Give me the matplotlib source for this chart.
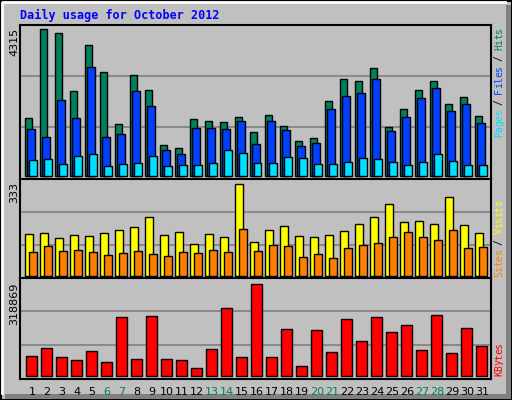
import numpy as np
import matplotlib.pyplot as plt
from matplotlib.patches import Rectangle
from matplotlib.lines import Line2D

days = list(range(1, 32))
weekend = [6, 7, 13, 14, 20, 21, 27, 28]
hits = [1702, 4315, 4197, 2495, 3845, 3052, 1526, 2964, 2524, 910, 822, 1673, 1614, 1585, 1732, 1291,
        1790, 1468, 1027, 1115, 2201, 2847, 2788, 3170, 1438, 1966, 2524, 2788, 2113, 2319, 1761]
files = [1379, 1145, 2231, 1702, 3199, 1145, 1233, 2495, 2055, 763, 646, 1409, 1409, 1379, 1614, 939,
         1614, 1350, 880, 969, 1966, 2348, 2436, 2847, 1321, 1732, 2289, 2583, 1908, 2113, 1556]
pages = [470, 499, 352, 587, 646, 294, 352, 382, 587, 294, 323, 323, 382, 763, 675, 382,
         382, 558, 528, 352, 352, 411, 528, 499, 411, 323, 411, 646, 440, 323, 323]
visits = [152, 156, 138, 148, 145, 156, 166, 177, 214, 148, 159, 116, 152, 141, 333, 123,
          166, 181, 145, 141, 148, 163, 188, 214, 261, 195, 199, 188, 286, 185, 156]
sites = [87, 109, 90, 94, 87, 76, 83, 90, 80, 72, 87, 83, 94, 87, 170, 90,
         112, 109, 69, 80, 65, 101, 112, 119, 141, 159, 141, 130, 166, 101, 105]
kbytes = [67500, 95432, 64009, 53535, 84957, 46552, 203665, 57026, 207156, 57026, 53535, 25604,
          91940, 235088, 64009, 318869, 64009, 161768, 32586, 158277, 81466, 196682, 119871,
          203665, 151294, 175734, 88449, 210648, 77975, 165260, 102414]

BG = '#c0c0c0'
W, H = 512, 400
fig = plt.figure(figsize=(5.12, 4.0), dpi=100, facecolor=BG)

# 3D frame
bg = fig.add_axes([0, 0, 1, 1])
bg.set_xlim(0, W); bg.set_ylim(H, 0); bg.axis('off')
bg.add_patch(Rectangle((0.5, 0.5), W - 1, H - 1, fill=False, ec='black', lw=1.5))
bg.plot([2, 2, 505], [393, 2, 2], color='white', lw=2)
bg.add_patch(Rectangle((506, 5), 5, 394, color='#808080', lw=0))
bg.add_patch(Rectangle((5, 394), 506, 5, color='#808080', lw=0))

mono = 'DejaVu Sans Mono'


def panel(y0, y1):
    a = fig.add_axes([20 / W, 1 - y1 / H, 471 / W, (y1 - y0) / H])
    a.set_facecolor(BG)
    a.set_xlim(0, 31.4)
    a.set_xticks([]); a.set_yticks([])
    for s in a.spines.values():
        s.set_linewidth(1.5)
    for f in (0.335, 0.67):
        a.add_line(Line2D([0, 1], [f, f], transform=a.transAxes, color='#808080', lw=1.2, zorder=0))
    return a


x = np.array(days) - 1.0
kw = dict(align='edge', edgecolor='black', linewidth=1)

a1 = panel(25, 179)
a1.set_ylim(-3 * 29.35, 151 * 29.35)
a1.bar(x + 0.35, hits, 0.48, color='#00805c', **kw)
a1.bar(x + 0.49, files, 0.48, color='#0040ff', **kw)
a1.bar(x + 0.62, pages, 0.48, color='#00e0ff', **kw)

a2 = panel(179, 278)
a2.set_ylim(-1.7 * 3.62, 97.3 * 3.62)
a2.bar(x + 0.35, visits, 0.52, color='#ffff00', **kw)
a2.bar(x + 0.62, sites, 0.52, color='#ff8000', **kw)

a3 = panel(278, 379)
a3.set_ylim(-3.3 * 3489, 97.7 * 3489)
a3.bar(x + 0.42, kbytes, 0.69, color='#ff0000', **kw)

for d in days:
    a3.text(d - 1 + 0.8, -0.08, str(d), transform=a3.get_xaxis_transform(), ha='center', va='top',
            fontsize=8, family='DejaVu Sans', color='#00805c' if d in weekend else 'black')

bg.text(20, 15, 'Daily usage for October 2012', color='#0000ff', fontsize=8.5,
        family=mono, weight='bold', va='center', ha='left')
for txt, y in (('4315', 28), ('333', 182), ('318869', 283)):
    bg.text(14, y, txt, rotation=90, ha='center', va='top', fontsize=8, family='DejaVu Sans')


def side(pieces, ybot):
    # one character at a time, so the spacing is fixed
    step = 5.45
    k = 0
    for s, c in pieces:
        for ch in s:
            if ch != ' ':
                bg.text(499, ybot - step * (k + 0.5), ch, rotation=90, ha='center', va='center',
                        color=c, fontsize=7, family=mono)
            k += 1


side([('Pages', '#00e0ff'), (' / ', 'black'), ('Files', '#0040ff'), (' / ', 'black'),
      ('Hits', '#00805c')], 137)
side([('Sites', '#ff8000'), (' / ', 'black'), ('Visits', '#ffff00')], 277)
side([('KBytes', '#ff0000')], 376)

fig.savefig('out.png', dpi=100, facecolor=BG)
